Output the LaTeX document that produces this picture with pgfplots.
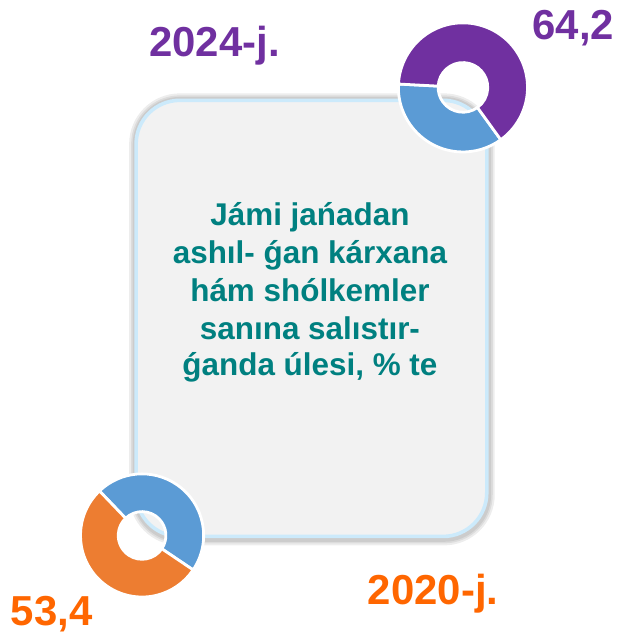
\documentclass[border=0pt]{standalone}
\usepackage{fontspec}
\setmainfont{Liberation Sans}
\usepackage{pgfplots}
\usepackage{pgfplotstable}
\pgfplotsset{compat=1.18}
\usetikzlibrary{calc}

\definecolor{purp}{HTML}{7030A0}
\definecolor{sliceblue}{HTML}{5B9BD5}
\definecolor{sliceorange}{HTML}{ED7D31}
\definecolor{labelorange}{HTML}{FF6600}
\definecolor{tealtext}{HTML}{008080}
\definecolor{boxfill}{HTML}{F2F2F2}
\definecolor{boxborder}{HTML}{CCEAFB}

% share of each year (main colour) and the rest (blue)
\pgfplotstableread{
year main rest
2024 64.2 35.8
2020 53.4 46.6
}\donutdata

% one slice of a ring: cx, cy (axis units), start, end angle, colour, outer, inner radius
\newcommand\ringslice[7]{%
  \fill[#5, draw=white, line width=0.07cm]
    ($(axis cs:#1,#2)+(#3:#6)$) arc[start angle=#3, end angle=#4, radius=#6]
    -- ($(axis cs:#1,#2)+(#4:#7)$) arc[start angle=#4, end angle=#3, radius=#7] -- cycle;}
\newcommand\cardline[2]{%
  \node[anchor=base, text=tealtext, font=\fontsize{22.5}{27}\selectfont\bfseries, inner sep=0pt]
    at (axis cs:312,#1) {#2};}
\newcommand\cardshadow[1]{%
  \draw[rounded corners=1.1cm, line width=#1, draw=black, opacity=0.07]
    (axis cs:137,95) rectangle (axis cs:491,536);}

\begin{document}
\begin{tikzpicture}
\pgfplotstablegetelem{0}{main}\of\donutdata \let\mainA\pgfplotsretval
\pgfplotstablegetelem{0}{rest}\of\donutdata \let\restA\pgfplotsretval
\pgfplotstablegetelem{1}{main}\of\donutdata \let\mainB\pgfplotsretval
\pgfplotstablegetelem{1}{rest}\of\donutdata \let\restB\pgfplotsretval
% 2024: blue from 177 deg, purple the rest
\pgfmathsetmacro\aS{177}
\pgfmathsetmacro\aM{177+\restA*3.6}
\pgfmathsetmacro\aE{\aM+\mainA*3.6}
% 2020: blue from -34 deg, orange the rest
\pgfmathsetmacro\bS{-34}
\pgfmathsetmacro\bM{-34+\restB*3.6}
\pgfmathsetmacro\bE{\bM+\mainB*3.6}
\pgfmathsetlengthmacro\RA{65*0.025cm}
\pgfmathsetlengthmacro\rA{25*0.025cm}
\pgfmathsetlengthmacro\RB{62*0.025cm}
\pgfmathsetlengthmacro\rB{24*0.025cm}
\begin{axis}[
    scale only axis,
    width=15.8cm, height=15.925cm,
    xmin=0, xmax=632, ymin=0, ymax=637,
    enlargelimits=false,
    hide axis,
    clip=false,
]
\path (rel axis cs:0,0) rectangle (rel axis cs:1,1);

% soft card shadow and card
\cardshadow{0.35cm}
\cardshadow{0.25cm}
\cardshadow{0.17cm}
\draw[rounded corners=1.1cm, line width=0.09cm, draw=boxborder, fill=boxfill]
  (axis cs:137,97) rectangle (axis cs:490,536);

% donuts
\ringslice{466}{549}{\aS}{\aM}{sliceblue}{\RA}{\rA}
\ringslice{466}{549}{\aM}{\aE}{purp}{\RA}{\rA}
\ringslice{143}{98}{\bS}{\bM}{sliceblue}{\RB}{\rB}
\ringslice{143}{98}{\bM}{\bE}{sliceorange}{\RB}{\rB}

% labels
\node[anchor=base, text=purp, font=\fontsize{30}{34}\selectfont\bfseries] at (axis cs:577,597) {64,2};
\node[anchor=base, text=purp, font=\fontsize{30}{34}\selectfont\bfseries] at (axis cs:216,580) {2024-j.};
\node[anchor=base, text=labelorange, font=\fontsize{30}{34}\selectfont\bfseries] at (axis cs:52,7) {53,4};
\node[anchor=base, text=labelorange, font=\fontsize{30}{34}\selectfont\bfseries] at (axis cs:436,29) {2020-j.};

% card text
\cardline{410}{Jámi jańadan}
\cardline{372}{ashıl- ǵan kárxana}
\cardline{334}{hám shólkemler}
\cardline{295}{sanına salıstır-}
\cardline{259}{ǵanda úlesi, \% te}
\end{axis}
\end{tikzpicture}
\end{document}
